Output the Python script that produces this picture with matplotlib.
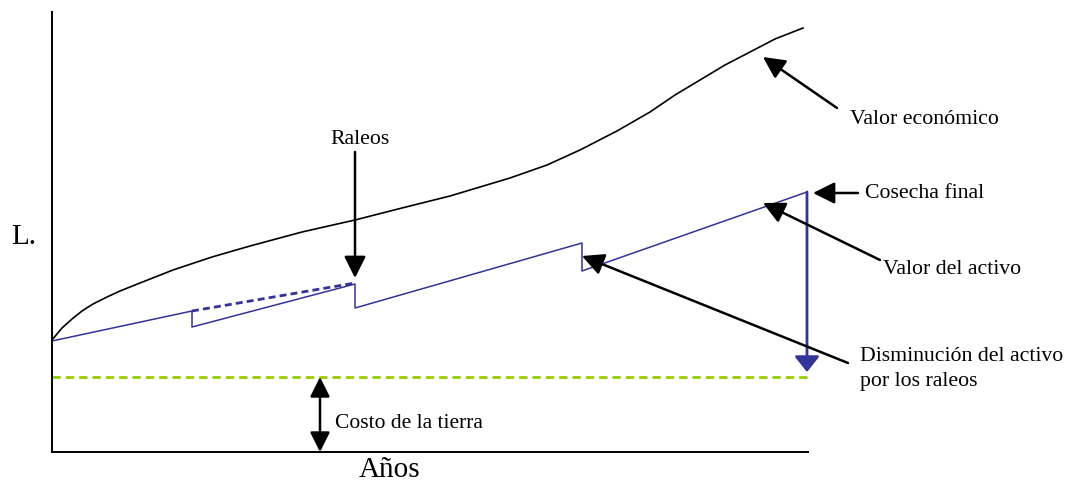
import matplotlib.pyplot as plt

plt.rcParams["font.family"] = ["Liberation Serif", "DejaVu Serif"]

# valor económico (curva negra)
eco_x = [0, 10, 20, 30, 41, 55, 68, 88, 121, 160, 198, 250, 303, 350, 398, 458, 495,
         528, 565, 598, 623, 648, 673, 698, 723, 751]
eco_y = [112, 124, 133, 141, 148, 155, 161, 169, 182, 195, 206, 220, 232, 244, 256, 274, 287,
         302, 321, 340, 357, 372, 387, 400, 413, 424]

# valor del activo (diente de sierra azul)
act_x = [0, 140, 140, 303, 303, 530, 530, 755]
act_y = [111, 141, 125, 168, 144, 209, 181, 260]

# crecimiento sin raleo (punteado)
sin_x = [140, 303]
sin_y = [141, 169]

costo_tierra = 75
cosecha_hasta = 80
x_fin = 755

fig = plt.figure(figsize=(10.7, 4.84), dpi=100)
ax = fig.add_axes([52 / 1070, 32 / 484, 756 / 1070, 440 / 484])
ax.set_xlim(0, 756)
ax.set_ylim(0, 440)

ax.plot(eco_x, eco_y, color="black", linewidth=1.2)
ax.plot(act_x, act_y, color="#333399", linewidth=1.1)
ax.plot(sin_x, sin_y, color="#333399", linewidth=2, linestyle=(0, (2.5, 1.5)))
ax.plot([0, x_fin], [costo_tierra, costo_tierra], color="#99cc00", linewidth=2,
        linestyle=(0, (3, 1.8)))

blk = dict(arrowstyle="-|>,head_length=0.6,head_width=0.3", color="black",
           lw=1.8, mutation_scale=22, shrinkA=0, shrinkB=0)
dbl = dict(arrowstyle="<|-|>,head_length=0.6,head_width=0.3", color="black",
           lw=1.8, mutation_scale=20, shrinkA=0, shrinkB=0)

# cosecha final: flecha azul hacia abajo
ax.annotate("", xy=(x_fin, cosecha_hasta), xytext=(x_fin, act_y[-1]),
            arrowprops=dict(arrowstyle="-|>,head_length=0.45,head_width=0.36",
                            color="#333399", lw=2, mutation_scale=21,
                            shrinkA=0, shrinkB=0))

# costo de la tierra
ax.annotate("", xy=(268, costo_tierra), xytext=(268, 0), arrowprops=dbl)
ax.text(283, 29, "Costo de la tierra", fontsize=15.5, va="center", ha="left")

fs = 15.7
ax.text(308, 312, "Raleos", fontsize=fs, ha="center", va="center")
ax.annotate("", xy=(303, 174), xytext=(303, 300), arrowprops=blk,
            annotation_clip=False)

ax.annotate("", xy=(711, 395), xytext=(785, 344), arrowprops=blk, annotation_clip=False)
ax.text(798, 332, "Valor económico", fontsize=fs, va="center", ha="left")

ax.annotate("", xy=(761, 259), xytext=(806, 259), arrowprops=blk, annotation_clip=False)
ax.text(813, 259, "Cosecha final", fontsize=fs, va="center", ha="left")

ax.annotate("", xy=(711, 249), xytext=(828, 192), arrowprops=blk, annotation_clip=False)
ax.text(831, 182, "Valor del activo", fontsize=fs, va="center", ha="left")

ax.annotate("", xy=(530, 196), xytext=(796, 89), arrowprops=blk, annotation_clip=False)
ax.text(808, 83, "Disminución del activo\npor los raleos", fontsize=fs,
        va="center", ha="left", linespacing=1.45)

ax.text(-28, 215, "L.", fontsize=21, va="center", ha="center")
ax.text(338, -18, "Años", fontsize=21, va="center", ha="center")

for s in ["top", "right"]:
    ax.spines[s].set_visible(False)
ax.spines["left"].set_linewidth(1.4)
ax.spines["bottom"].set_linewidth(1.4)
ax.set_xticks([])
ax.set_yticks([])

fig.savefig("out.png", dpi=100)
